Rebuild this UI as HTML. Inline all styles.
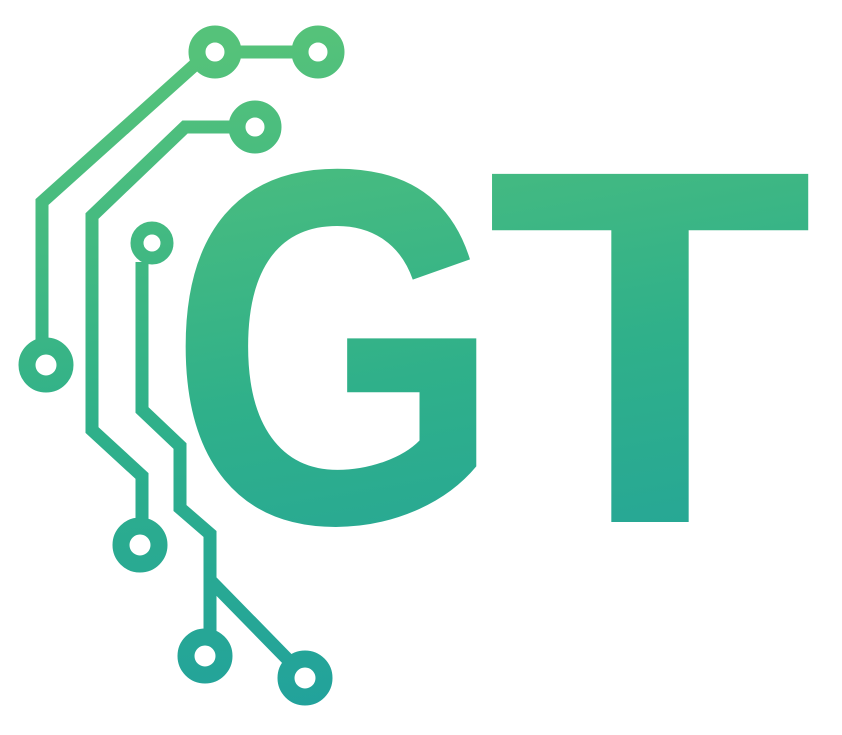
<!DOCTYPE html>
<html><head><meta charset="utf-8"><style>
html,body{margin:0;padding:0;background:#fff;}
svg{display:block;}
</style></head><body>
<svg width="842" height="735" viewBox="0 0 842 735">
<defs>
<linearGradient id="gu" x1="400" y1="20" x2="520" y2="720" gradientUnits="userSpaceOnUse">
<stop offset="0" stop-color="#55c27a"/><stop offset="0.5" stop-color="#2fb08a"/><stop offset="1" stop-color="#20a09e"/>
</linearGradient>
</defs>
<g fill="none" stroke="url(#gu)" stroke-width="13" stroke-linejoin="miter">
<polyline points="318,52 215,52"/>
<polyline points="198,62 42,202 42,345"/>
<polyline points="235,127 185,127 92,216 92,430 142,476 142,525"/>
<polyline points="142,262 142,410 180,446 180,508 210,534 210,635"/>
<polyline points="210,580 300,672"/>
</g>
<g fill="#fff" stroke="url(#gu)" stroke-width="17">
<circle cx="215" cy="52" r="18"/>
<circle cx="318" cy="52" r="18"/>
<circle cx="46" cy="365" r="19"/>
<circle cx="255" cy="127" r="18"/>
<circle cx="152" cy="243" r="15" stroke-width="13"/>
<circle cx="140" cy="545" r="19"/>
<circle cx="205" cy="656" r="19"/>
<circle cx="305" cy="678" r="19"/>
</g>
<text x="168" y="522" font-family="Liberation Sans, sans-serif" font-weight="bold" font-size="506" fill="url(#gu)" textLength="335" lengthAdjust="spacingAndGlyphs">G</text>
<text x="486" y="522" font-family="Liberation Sans, sans-serif" font-weight="bold" font-size="506" fill="url(#gu)" textLength="328" lengthAdjust="spacingAndGlyphs">T</text>
</svg>
</body></html>
